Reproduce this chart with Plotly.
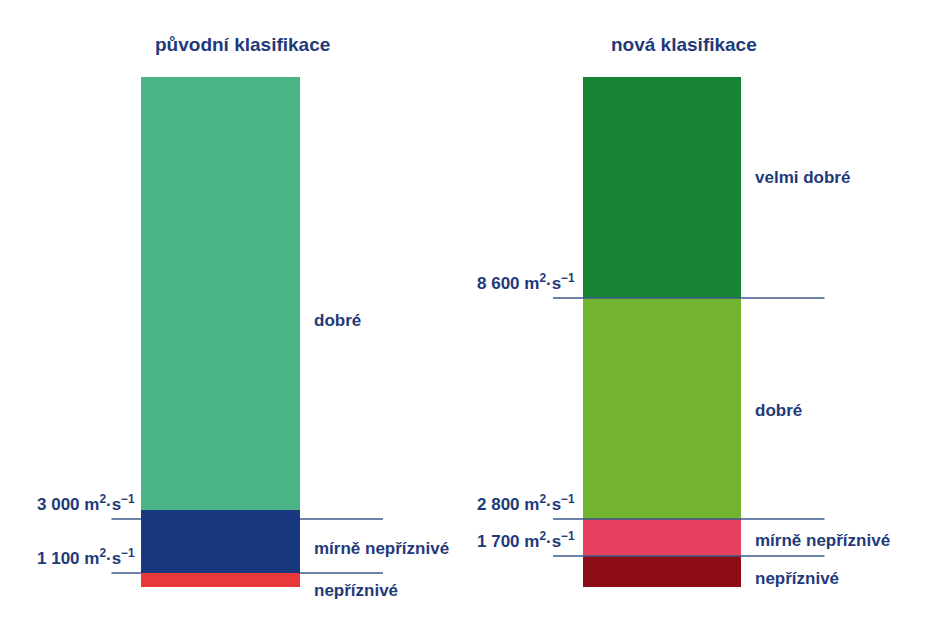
import plotly.graph_objects as go

# ---- data (segment heights in arbitrary schematic units, bottom -> top) ----
classifications = ["původní klasifikace", "nová klasifikace"]

old_classes = ["nepříznivé", "mírně nepříznivé", "dobré"]
old_heights = [14, 63, 433]
old_colors = ["#e8393a", "#17387e", "#4ab487"]

new_classes = ["nepříznivé", "mírně nepříznivé", "dobré", "velmi dobré"]
new_heights = [31, 37, 221, 221]
new_colors = ["#8c0d16", "#e5405d", "#72b42f", "#178434"]

# thresholds: label text and schematic position
old_thr_labels = ["1 100", "3 000"]
old_thr_pos = [14, 68]
new_thr_labels = ["1 700", "2 800", "8 600"]
new_thr_pos = [31, 68, 289]

# label positions (schematic units)
old_label_y = [-3, 39, 267]
new_label_y = [9, 47, 177, 410]

TXT = "#1f3a7a"
LINE = "#3d5a8c"
FONT = "Liberation Sans, Arial, sans-serif"
BAR_W = 0.36

fig = go.Figure()
for i, (h, c, name) in enumerate(zip(old_heights, old_colors, old_classes)):
    fig.add_trace(go.Bar(x=[0], y=[h], base=[sum(old_heights[:i])], width=BAR_W,
                         marker=dict(color=c, line=dict(width=0)), name=name,
                         showlegend=False, hoverinfo="skip"))
for i, (h, c, name) in enumerate(zip(new_heights, new_colors, new_classes)):
    fig.add_trace(go.Bar(x=[1], y=[h], base=[sum(new_heights[:i])], width=BAR_W,
                         marker=dict(color=c, line=dict(width=0)), name=name,
                         showlegend=False, hoverinfo="skip"))

shapes = []
annotations = []

def unit_text(v):
    return f"{v} m<sup>2</sup>·s<sup>−1</sup>"

for xc, labels, pos, layer, shift in [(0, old_thr_labels, old_thr_pos, "below", -4),
                                      (1, new_thr_labels, new_thr_pos, "above", -6)]:
    for lab, p in zip(labels, pos):
        shapes.append(dict(type="line", xref="x", yref="y", x0=xc - 0.247, x1=xc + 0.368,
                           y0=p, y1=p, line=dict(color=LINE, width=1.3), layer=layer))
        annotations.append(dict(x=xc - BAR_W / 2, y=p, xref="x", yref="y", text=unit_text(lab),
                                xanchor="right", yanchor="bottom", xshift=shift, yshift=3,
                                showarrow=False,
                                font=dict(family=FONT, size=17, color=TXT, weight="bold")))

for xc, classes, ys, sh in [(0, old_classes, old_label_y, 12), (1, new_classes, new_label_y, 12)]:
    for cl, y in zip(classes, ys):
        annotations.append(dict(x=xc + BAR_W / 2, y=y, xref="x", yref="y", text=cl,
                                xanchor="left", yanchor="middle", xshift=sh, showarrow=False,
                                font=dict(family=FONT, size=17, color=TXT, weight="bold")))

for xc, t in zip([0, 1], classifications):
    annotations.append(dict(x=xc + 0.05, y=543, xref="x", yref="y", text=t,
                            xanchor="center", yanchor="middle", showarrow=False,
                            font=dict(family=FONT, size=19, color=TXT, weight="bold")))

fig.update_layout(
    width=927, height=630,
    margin=dict(l=0, r=0, t=0, b=0),
    paper_bgcolor="white", plot_bgcolor="white",
    barmode="overlay", bargap=0,
    xaxis=dict(range=[-0.4813, 1.6183], visible=False, fixedrange=True),
    yaxis=dict(range=[-51, 579], visible=False, fixedrange=True),
    shapes=shapes, annotations=annotations,
)
fig.write_html("out.html")
